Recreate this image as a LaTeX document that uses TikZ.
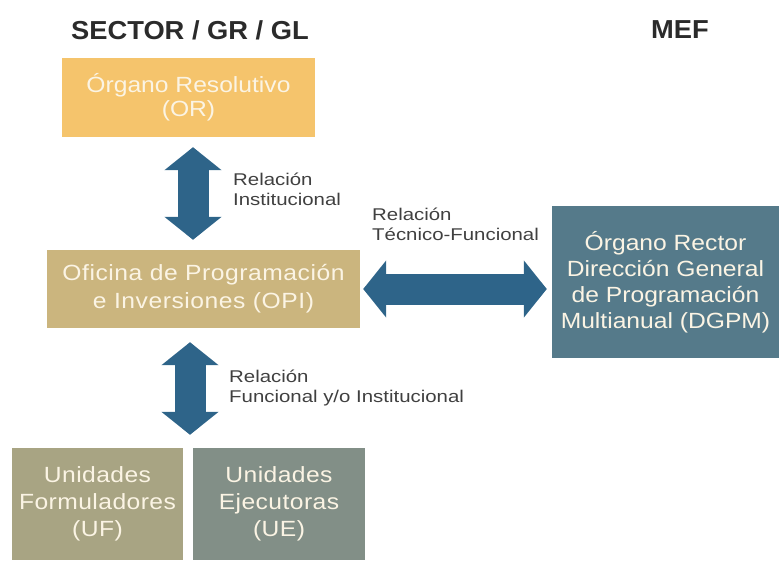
\documentclass[tikz,border=0pt]{standalone}
\usepackage{fontspec}
\setmainfont{Liberation Sans}
\usepackage{tikz}
\usetikzlibrary{arrows.meta, calc}

\definecolor{orbox}{HTML}{F5C46C}
\definecolor{opibox}{HTML}{CBB57E}
\definecolor{mefbox}{HTML}{557A8A}
\definecolor{ufbox}{HTML}{A8A483}
\definecolor{uebox}{HTML}{828F87}
\definecolor{arrowblue}{HTML}{2E6489}
\definecolor{boxtext}{HTML}{FBF4E4}
\definecolor{titletext}{HTML}{2B2B2B}

\begin{document}
\begin{tikzpicture}[x=1pt, y=-1pt,
  box/.style={rectangle, inner sep=0pt, align=center, text=boxtext,
    font=\fontsize{22}{26}\selectfont\addfontfeature{FakeStretch=1.12}},
  head/.style={font=\fontsize{26}{30}\selectfont\bfseries\addfontfeature{FakeStretch=1.05},
    text=titletext},
  lbl/.style={align=left, anchor=north west, inner sep=0pt, text=black!75,
    font=\fontsize{17}{20}\selectfont\addfontfeature{FakeStretch=1.2}},
  blockarrow/.style={arrowblue, line width=31pt, line join=miter,
    {Triangle[length=23pt, width=56pt]}-{Triangle[length=23pt, width=56pt]}}]

  \useasboundingbox (0,0) rectangle (779,560);

  % column headings
  \node[head] (sector) at (190,30) {SECTOR / GR / GL};
  \node[head] (mef) at (680,30) {MEF};

  % boxes
  \node[box, fill=orbox, minimum width=253pt, minimum height=79pt,
    font=\fontsize{22}{24}\selectfont\addfontfeature{FakeStretch=1.12}] (or) at (188.5,97.5)
    {Órgano Resolutivo\\(OR)};
  \node[box, fill=opibox, minimum width=313pt, minimum height=78pt,
    font=\fontsize{22}{28}\selectfont\addfontfeature{FakeStretch=1.12,LetterSpace=2.5}] (opi) at (203.5,289)
    {Oficina de Programación\\e Inversiones (OPI)};
  \node[box, fill=mefbox, minimum width=227pt, minimum height=152pt] (dgpm) at (665.5,282)
    {Órgano Rector\\Dirección General\\de Programación\\Multianual (DGPM)};
  \node[box, fill=ufbox, minimum width=171pt, minimum height=112pt,
    font=\fontsize{22}{27}\selectfont\addfontfeature{FakeStretch=1.12,LetterSpace=2}] (uf) at (97.5,504)
    {Unidades\\Formuladores\\(UF)};
  \node[box, fill=uebox, minimum width=172pt, minimum height=112pt,
    font=\fontsize{22}{27}\selectfont\addfontfeature{FakeStretch=1.12,LetterSpace=2}] (ue) at (279,504)
    {Unidades\\Ejecutoras\\(UE)};

  % relations
  \coordinate (a1) at ($(or.south)+(4.5,0)$);
  \draw[blockarrow, shorten <=10pt, shorten >=10pt] (a1) -- (a1 |- opi.north);
  \coordinate (a2) at ($(opi.south)+(-13.5,0)$);
  \draw[blockarrow, shorten <=14pt, shorten >=13pt] (a2) -- (a2 |- uf.north);
  \draw[blockarrow, shorten <=3pt, shorten >=5pt] (opi.east) -- (opi.east -| dgpm.west);

  \node[lbl] (l1) at (233,173) {Relación\\Institucional};
  \node[lbl] (l2) at (372,208) {Relación\\Técnico-Funcional};
  \node[lbl] (l3) at (229,370) {Relación\\Funcional y/o Institucional};
\end{tikzpicture}
\end{document}
